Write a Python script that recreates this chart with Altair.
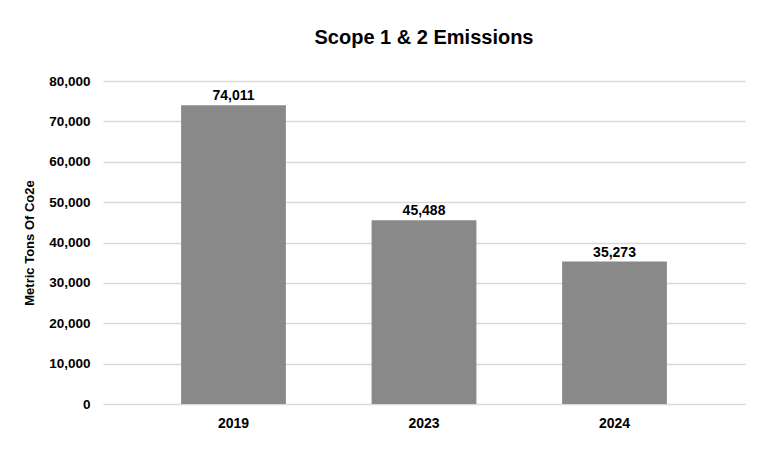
import altair as alt
import pandas as pd

years = ["2019", "2023", "2024"]
emissions = [74011, 45488, 35273]

df = pd.DataFrame({"year": years, "value": emissions})
FONT = "Liberation Sans"

base = alt.Chart(df).encode(
    x=alt.X("year:N", title=None, sort=years,
            scale=alt.Scale(paddingInner=0.45, paddingOuter=0.41),
            axis=alt.Axis(labelAngle=0, labelFont=FONT, labelFontSize=14, labelFontWeight="bold",
                          labelColor="#000000", ticks=False, domain=False, labelPadding=12)),
    y=alt.Y("value:Q", title="Metric Tons Of Co2e",
            scale=alt.Scale(domain=[0, 80000]),
            axis=alt.Axis(values=list(range(0, 80001, 10000)), format=",d",
                          labelFont=FONT, labelFontSize=13.5, labelFontWeight="bold", labelColor="#000000",
                          titleFont=FONT, titleFontSize=13, titleFontWeight="bold", titleColor="#000000",
                          ticks=False, domain=False, labelPadding=13, titlePadding=12,
                          grid=True, gridColor="#d9d9d9", gridWidth=1.5)),
)

bars = base.mark_bar(color="#898989")
labels = base.mark_text(dy=-9, font=FONT, fontSize=14, fontWeight="bold", color="#000000").encode(
    text=alt.Text("value:Q", format=",d"))

chart = (bars + labels).properties(
    width=642, height=323,
    title=alt.TitleParams("Scope 1 & 2 Emissions", font=FONT, fontSize=20, fontWeight="bold",
                          color="#000000", offset=26, anchor="middle"),
    padding={"left": 15, "top": 20, "right": 10, "bottom": 10},
).configure_view(stroke=None)

chart.save("out.html", embed_options={"renderer": "svg", "actions": False})
